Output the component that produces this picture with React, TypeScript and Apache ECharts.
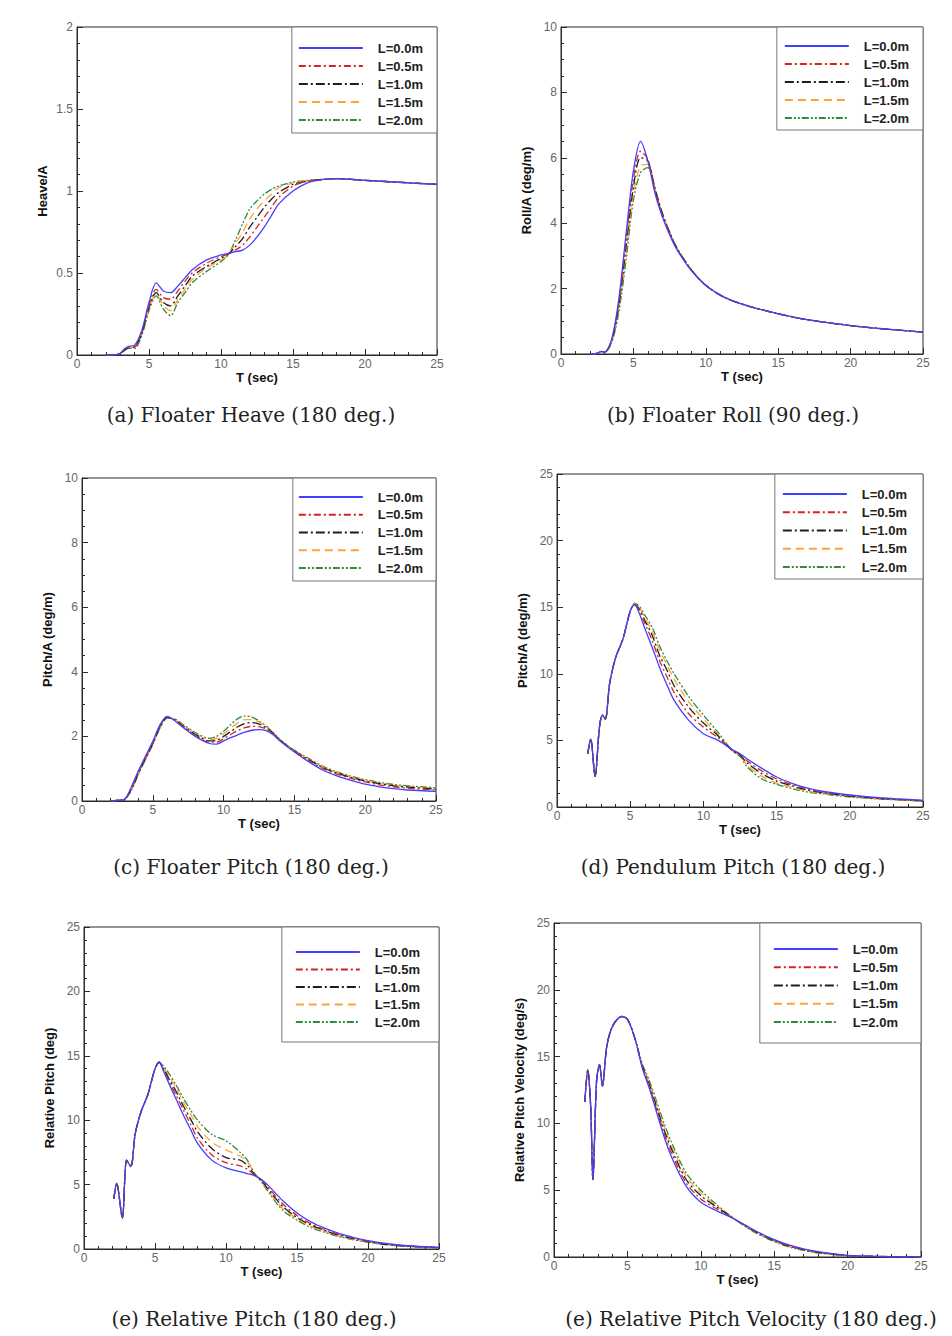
import { useEffect, useRef } from "react";
import * as echarts from "echarts";

// ---------- legend / style ----------
const NAMES = ["L=0.0m", "L=0.5m", "L=1.0m", "L=1.5m", "L=2.0m"];
const COLORS = ["#4040ff", "#d42424", "#1e1e1e", "#ffa23a", "#2f8c3a"];
const DASHES: any[] = ["solid", [7, 3, 2, 3], [9, 3, 2, 3], [8, 5], [7, 2, 2, 2, 2, 2]];

// ---------- (a) Floater Heave ----------
const T_A = [2, 2.5, 3, 3.5, 4, 4.5, 5, 5.5, 6, 6.5, 7, 7.5, 8, 9, 10, 10.5, 11, 11.5, 12, 12.5, 13, 13.5, 14, 15, 16, 17, 18, 20, 22, 25];
const HEAVE_L00 = [0, 0, 0.01, 0.05, 0.06, 0.15, 0.32, 0.44, 0.39, 0.38, 0.42, 0.47, 0.52, 0.58, 0.61, 0.62, 0.63, 0.64, 0.67, 0.72, 0.78, 0.85, 0.92, 1.0, 1.05, 1.07, 1.075, 1.065, 1.055, 1.04];
const HEAVE_L05 = [0, 0, 0.01, 0.05, 0.05, 0.14, 0.3, 0.4, 0.35, 0.34, 0.39, 0.45, 0.5, 0.56, 0.6, 0.615, 0.64, 0.67, 0.72, 0.78, 0.84, 0.9, 0.96, 1.03, 1.06, 1.07, 1.075, 1.065, 1.055, 1.04];
const HEAVE_L10 = [0, 0, 0.01, 0.04, 0.05, 0.13, 0.29, 0.38, 0.32, 0.3, 0.36, 0.42, 0.48, 0.54, 0.59, 0.615, 0.66, 0.71, 0.78, 0.84, 0.9, 0.95, 0.99, 1.04, 1.06, 1.07, 1.075, 1.065, 1.055, 1.04];
const HEAVE_L15 = [0, 0, 0.01, 0.04, 0.05, 0.13, 0.28, 0.37, 0.3, 0.27, 0.34, 0.4, 0.46, 0.53, 0.58, 0.61, 0.68, 0.75, 0.83, 0.89, 0.94, 0.98, 1.02, 1.05, 1.065, 1.07, 1.075, 1.065, 1.055, 1.04];
const HEAVE_L20 = [0, 0, 0.01, 0.04, 0.04, 0.12, 0.27, 0.36, 0.28, 0.24, 0.32, 0.38, 0.44, 0.51, 0.57, 0.61, 0.7, 0.8, 0.89, 0.94, 0.98, 1.01, 1.03, 1.055, 1.065, 1.07, 1.075, 1.065, 1.055, 1.04];

// ---------- (b) Floater Roll ----------
const T_B = [2, 2.5, 2.8, 3, 3.5, 4, 4.5, 5, 5.5, 6, 6.5, 7, 7.5, 8, 9, 10, 11, 12, 13, 14, 15, 17, 20, 22, 25];
const ROLL_L00 = [0, 0.02, 0.08, 0.05, 0.45, 1.7, 3.7, 5.6, 6.5, 5.9, 4.9, 4.2, 3.65, 3.2, 2.55, 2.1, 1.8, 1.6, 1.46, 1.34, 1.23, 1.05, 0.87, 0.78, 0.67];
const ROLL_L05 = [0, 0.02, 0.08, 0.05, 0.42, 1.6, 3.5, 5.35, 6.2, 5.95, 5.0, 4.25, 3.7, 3.22, 2.56, 2.1, 1.8, 1.6, 1.46, 1.34, 1.23, 1.05, 0.87, 0.78, 0.67];
const ROLL_L10 = [0, 0.02, 0.08, 0.05, 0.4, 1.5, 3.3, 5.1, 6.0, 5.9, 5.05, 4.3, 3.72, 3.24, 2.57, 2.1, 1.8, 1.6, 1.46, 1.34, 1.23, 1.05, 0.87, 0.78, 0.67];
const ROLL_L15 = [0, 0.02, 0.08, 0.05, 0.38, 1.4, 3.1, 4.9, 5.75, 5.8, 5.05, 4.3, 3.72, 3.25, 2.58, 2.1, 1.8, 1.6, 1.46, 1.34, 1.23, 1.05, 0.87, 0.78, 0.67];
const ROLL_L20 = [0, 0.02, 0.08, 0.05, 0.35, 1.3, 2.9, 4.7, 5.55, 5.7, 5.0, 4.3, 3.72, 3.25, 2.58, 2.1, 1.8, 1.6, 1.46, 1.34, 1.23, 1.05, 0.87, 0.78, 0.67];

// ---------- (c) Floater Pitch ----------
const T_C = [2, 2.5, 3, 3.5, 4, 4.5, 5, 5.5, 6, 6.5, 7, 8, 9, 9.5, 10, 10.5, 11, 11.5, 12, 12.5, 13, 13.5, 14, 15, 16, 17, 18, 19, 20, 21, 22, 23, 25];
const PF_L00 = [0, 0.02, 0.05, 0.45, 0.95, 1.4, 1.85, 2.35, 2.62, 2.5, 2.32, 2.0, 1.78, 1.76, 1.86, 1.96, 2.05, 2.13, 2.19, 2.21, 2.18, 2.05, 1.85, 1.52, 1.22, 0.96, 0.78, 0.64, 0.52, 0.44, 0.38, 0.34, 0.3];
const PF_L05 = [0, 0.02, 0.05, 0.4, 0.9, 1.35, 1.8, 2.3, 2.6, 2.52, 2.35, 2.03, 1.82, 1.82, 1.93, 2.06, 2.18, 2.27, 2.31, 2.3, 2.23, 2.08, 1.87, 1.54, 1.26, 1.01, 0.83, 0.7, 0.59, 0.5, 0.44, 0.4, 0.34];
const PF_L10 = [0, 0.02, 0.05, 0.38, 0.88, 1.33, 1.78, 2.28, 2.58, 2.53, 2.37, 2.06, 1.86, 1.88, 2.0, 2.15, 2.3, 2.4, 2.43, 2.38, 2.27, 2.1, 1.88, 1.55, 1.28, 1.04, 0.86, 0.73, 0.62, 0.54, 0.47, 0.43, 0.37];
const PF_L15 = [0, 0.02, 0.05, 0.36, 0.86, 1.31, 1.76, 2.26, 2.57, 2.54, 2.39, 2.09, 1.9, 1.94, 2.08, 2.25, 2.42, 2.52, 2.52, 2.44, 2.3, 2.11, 1.89, 1.56, 1.3, 1.06, 0.88, 0.75, 0.64, 0.56, 0.49, 0.45, 0.39];
const PF_L20 = [0, 0.02, 0.05, 0.34, 0.84, 1.3, 1.75, 2.25, 2.56, 2.55, 2.41, 2.12, 1.94, 2.0, 2.16, 2.36, 2.55, 2.63, 2.6, 2.48, 2.32, 2.12, 1.9, 1.57, 1.32, 1.08, 0.9, 0.77, 0.66, 0.58, 0.51, 0.47, 0.41];

// ---------- (d) Pendulum Pitch ----------
const T_D = [2.1, 2.3, 2.6, 2.9, 3.1, 3.3, 3.6, 4, 4.5, 5, 5.3, 5.6, 6, 6.5, 7, 7.5, 8, 9, 10, 11, 12, 12.5, 13, 14, 15, 16, 17, 18, 20, 22, 25];
const PP_L00 = [4.0, 5.1, 2.3, 6.0, 6.9, 6.6, 9.3, 11.2, 12.6, 14.7, 15.2, 14.6, 13.4, 12.0, 10.5, 9.2, 8.0, 6.5, 5.5, 5.0, 4.3, 4.0, 3.6, 2.9, 2.25, 1.8, 1.45, 1.2, 0.9, 0.7, 0.5];
const PP_L05 = [4.0, 5.1, 2.3, 6.0, 6.9, 6.6, 9.3, 11.2, 12.6, 14.7, 15.2, 14.8, 13.8, 12.5, 11.0, 9.8, 8.6, 7.0, 6.0, 5.2, 4.25, 3.95, 3.45, 2.7, 2.1, 1.7, 1.38, 1.15, 0.86, 0.67, 0.48];
const PP_L10 = [4.0, 5.1, 2.3, 6.0, 6.9, 6.6, 9.3, 11.2, 12.6, 14.7, 15.2, 14.9, 14.0, 12.9, 11.4, 10.3, 9.1, 7.5, 6.3, 5.35, 4.2, 3.9, 3.3, 2.5, 1.95, 1.6, 1.3, 1.1, 0.82, 0.64, 0.47];
const PP_L15 = [4.0, 5.1, 2.3, 6.0, 6.9, 6.6, 9.3, 11.2, 12.6, 14.7, 15.25, 15.0, 14.2, 13.2, 11.8, 10.7, 9.6, 7.9, 6.6, 5.45, 4.2, 3.85, 3.15, 2.3, 1.8, 1.5, 1.22, 1.05, 0.78, 0.62, 0.46];
const PP_L20 = [4.0, 5.1, 2.3, 6.0, 6.9, 6.6, 9.3, 11.2, 12.6, 14.7, 15.3, 15.1, 14.4, 13.5, 12.1, 11.0, 10.0, 8.3, 6.9, 5.6, 4.2, 3.8, 3.0, 2.1, 1.7, 1.4, 1.15, 1.0, 0.75, 0.6, 0.45];

// ---------- (e) Relative Pitch ----------
const T_E = [2.1, 2.3, 2.7, 3.0, 3.3, 3.6, 4, 4.5, 5, 5.3, 5.6, 6, 6.5, 7, 7.5, 8, 9, 10, 11, 11.5, 12, 12.5, 13, 14, 15, 16, 17, 18, 20, 22, 25];
const RP_L00 = [3.9, 5.1, 2.4, 6.9, 6.4, 8.9, 10.6, 12.0, 14.0, 14.5, 13.8, 12.8, 11.6, 10.4, 9.3, 8.2, 6.9, 6.3, 6.0, 5.85, 5.7, 5.4, 4.9, 3.75, 2.8, 2.1, 1.6, 1.2, 0.65, 0.33, 0.12];
const RP_L05 = [3.9, 5.1, 2.4, 6.9, 6.4, 8.9, 10.6, 12.0, 14.0, 14.5, 13.9, 13.0, 11.9, 10.8, 9.7, 8.6, 7.3, 6.7, 6.45, 6.2, 5.75, 5.35, 4.75, 3.5, 2.6, 1.95, 1.5, 1.12, 0.6, 0.3, 0.1];
const RP_L10 = [3.9, 5.1, 2.4, 6.9, 6.4, 8.9, 10.6, 12.0, 14.0, 14.5, 14.0, 13.2, 12.2, 11.1, 10.1, 9.1, 7.8, 7.1, 6.9, 6.5, 5.8, 5.3, 4.6, 3.3, 2.45, 1.85, 1.42, 1.06, 0.57, 0.28, 0.1];
const RP_L15 = [3.9, 5.1, 2.4, 6.9, 6.4, 8.9, 10.6, 12.0, 14.0, 14.5, 14.1, 13.4, 12.5, 11.4, 10.5, 9.5, 8.3, 7.7, 7.2, 6.8, 5.85, 5.25, 4.5, 3.15, 2.35, 1.75, 1.35, 1.0, 0.55, 0.26, 0.1];
const RP_L20 = [3.9, 5.1, 2.4, 6.9, 6.4, 8.9, 10.6, 12.0, 14.0, 14.5, 14.2, 13.6, 12.7, 11.7, 10.8, 10.0, 8.9, 8.4, 7.5, 6.9, 5.9, 5.2, 4.4, 3.0, 2.25, 1.65, 1.28, 0.95, 0.52, 0.25, 0.1];

// ---------- (f) Relative Pitch Velocity ----------
const T_F = [2.1, 2.3, 2.5, 2.65, 2.9, 3.1, 3.3, 3.6, 4, 4.6, 5, 5.5, 6, 6.5, 7, 7.5, 8, 9, 10, 11, 12, 13, 14, 15, 16, 17, 18, 20, 22, 25];
const RV_L00 = [11.6, 14.0, 11.2, 5.8, 13.2, 14.4, 12.8, 15.8, 17.3, 18.0, 17.8, 16.4, 14.2, 12.6, 10.8, 9.0, 7.5, 5.3, 4.1, 3.5, 3.0, 2.4, 1.8, 1.3, 0.9, 0.6, 0.4, 0.12, 0.04, 0.02];
const RV_L05 = [11.6, 14.0, 11.2, 5.8, 13.2, 14.4, 12.8, 15.8, 17.3, 18.0, 17.8, 16.4, 14.3, 12.75, 11.0, 9.25, 7.8, 5.55, 4.35, 3.65, 3.02, 2.38, 1.76, 1.26, 0.86, 0.57, 0.37, 0.11, 0.04, 0.02];
const RV_L10 = [11.6, 14.0, 11.2, 5.8, 13.2, 14.4, 12.8, 15.8, 17.3, 18.0, 17.8, 16.4, 14.35, 12.9, 11.2, 9.5, 8.1, 5.8, 4.6, 3.8, 3.05, 2.35, 1.72, 1.22, 0.82, 0.54, 0.35, 0.11, 0.04, 0.02];
const RV_L15 = [11.6, 14.0, 11.2, 5.8, 13.2, 14.4, 12.8, 15.8, 17.3, 18.0, 17.8, 16.4, 14.4, 13.05, 11.4, 9.75, 8.35, 6.05, 4.8, 3.9, 3.08, 2.33, 1.68, 1.18, 0.78, 0.52, 0.32, 0.1, 0.04, 0.02];
const RV_L20 = [11.6, 14.0, 11.2, 5.8, 13.2, 14.4, 12.8, 15.8, 17.3, 18.0, 17.8, 16.4, 14.5, 13.2, 11.6, 10.0, 8.6, 6.3, 5.0, 4.0, 3.1, 2.3, 1.65, 1.15, 0.75, 0.5, 0.3, 0.1, 0.04, 0.02];

const Y_TITLES = ["Heave/A", "Roll/A (deg/m)", "Pitch/A (deg/m)", "Pitch/A (deg/m)", "Relative Pitch (deg)", "Relative Pitch Velocity (deg/s)"];
const CAPTIONS = [
  "(a) Floater Heave (180 deg.)",
  "(b) Floater Roll (90 deg.)",
  "(c) Floater Pitch (180 deg.)",
  "(d) Pendulum Pitch (180 deg.)",
  "(e) Relative Pitch (180 deg.)",
  "(e) Relative Pitch Velocity (180 deg.)",
];

const PANELS = [
  { t: T_A, ys: [HEAVE_L00, HEAVE_L05, HEAVE_L10, HEAVE_L15, HEAVE_L20], yMax: 2, yInt: 0.5, yMinor: 5 },
  { t: T_B, ys: [ROLL_L00, ROLL_L05, ROLL_L10, ROLL_L15, ROLL_L20], yMax: 10, yInt: 2, yMinor: 4 },
  { t: T_C, ys: [PF_L00, PF_L05, PF_L10, PF_L15, PF_L20], yMax: 10, yInt: 2, yMinor: 4 },
  { t: T_D, ys: [PP_L00, PP_L05, PP_L10, PP_L15, PP_L20], yMax: 25, yInt: 5, yMinor: 5 },
  { t: T_E, ys: [RP_L00, RP_L05, RP_L10, RP_L15, RP_L20], yMax: 25, yInt: 5, yMinor: 5 },
  { t: T_F, ys: [RV_L00, RV_L05, RV_L10, RV_L15, RV_L20], yMax: 25, yInt: 5, yMinor: 5 },
];

// layout (pixels)
const GRIDS = [
  { left: 77, top: 27, width: 360, height: 328 },
  { left: 561, top: 27, width: 362, height: 327 },
  { left: 82, top: 478, width: 354, height: 323 },
  { left: 557, top: 474, width: 366, height: 333 },
  { left: 84, top: 927, width: 355, height: 322 },
  { left: 554, top: 923, width: 367, height: 334 },
];
// padding: [top, right, bottom, left]
const LEGEND_PAD = [
  [14.5, 14, 6.5, 6],
  [12.5, 14, 5.5, 7],
  [12.5, 13, 6.5, 5],
  [13.5, 16, 5.5, 7],
  [18.5, 19, 13.5, 13],
  [19.5, 23, 14.5, 13],
];
const LEGEND_GAP = [5, 5, 4.75, 5.25, 4.5, 5.25];
const CAPTION_POS = [
  [251, 415], [733, 415], [251, 867], [733, 867], [254, 1319], [751, 1319],
];

const SANS = "'Liberation Sans', Arial, sans-serif";

export default function App() {
  const ref = useRef<HTMLDivElement>(null);
  useEffect(() => {
    if (!ref.current) return;
    const chart = echarts.init(ref.current, undefined, { renderer: "svg" });
    const grid: any[] = [];
    const xAxis: any[] = [];
    const yAxis: any[] = [];
    const legend: any[] = [];
    const series: any[] = [];
    PANELS.forEach((p, i) => {
      const g = GRIDS[i];
      grid.push({ ...g, show: true, borderColor: "#2a2a2a", borderWidth: 1, backgroundColor: "transparent" });
      xAxis.push({
        gridIndex: i, type: "value", min: 0, max: 25, interval: 5,
        name: "T (sec)", nameLocation: "middle", nameGap: 15,
        nameTextStyle: { fontFamily: SANS, fontWeight: "bold", fontSize: 13, color: "#111", verticalAlign: "top" },
        axisLine: { show: true, onZero: false, lineStyle: { color: "#2a2a2a", width: 1 } },
        axisTick: { show: true, inside: true, length: 6, lineStyle: { color: "#2a2a2a" } },
        minorTick: { show: true, splitNumber: 5, length: 3, lineStyle: { color: "#2a2a2a" } },
        axisLabel: { color: "#666", fontSize: 12, fontFamily: SANS, margin: 3 },
        splitLine: { show: false },
      });
      yAxis.push({
        gridIndex: i, type: "value", min: 0, max: p.yMax, interval: p.yInt,
        name: Y_TITLES[i], nameLocation: "middle", nameGap: 28, nameRotate: 90,
        nameTextStyle: { fontFamily: SANS, fontWeight: "bold", fontSize: 13, color: "#111" },
        axisLine: { show: true, onZero: false, lineStyle: { color: "#2a2a2a", width: 1 } },
        axisTick: { show: true, inside: true, length: 6, lineStyle: { color: "#2a2a2a" } },
        minorTick: { show: true, splitNumber: p.yMinor, length: 3, lineStyle: { color: "#2a2a2a" } },
        axisLabel: { color: "#666", fontSize: 12, fontFamily: SANS, margin: 4 },
        splitLine: { show: false },
      });
      legend.push({
        show: true, orient: "vertical",
        right: 952 - (g.left + g.width), top: g.top,
        padding: LEGEND_PAD[i], itemWidth: 64, itemHeight: 10, itemGap: LEGEND_GAP[i],
        backgroundColor: "#fff", borderColor: "#777", borderWidth: 1,
        selectedMode: false,
        itemStyle: { opacity: 0 },
        textStyle: { fontFamily: SANS, fontWeight: "bold", fontSize: 13, color: "#222", padding: [0, 0, 0, 10] },
        data: NAMES,
      });
      p.ys.forEach((vals, k) => {
        series.push({
          type: "line", name: NAMES[k], xAxisIndex: i, yAxisIndex: i,
          data: p.t.map((t, j) => [t, vals[j]]),
          showSymbol: false, symbol: "none", smooth: 0.3, silent: true,
          lineStyle: { color: COLORS[k], width: 1.3, type: DASHES[k] },
          itemStyle: { color: COLORS[k] },
          z: 10 - k,
        });
      });
    });
    const graphic = CAPTIONS.map((c, i) => ({
      type: "text", x: CAPTION_POS[i][0], y: CAPTION_POS[i][1],
      style: { text: c, fill: "#222", font: "20px 'DejaVu Serif', serif", textAlign: "center", textVerticalAlign: "middle" },
    }));
    chart.setOption({ animation: false, backgroundColor: "#fff", grid, xAxis, yAxis, legend, series, graphic });
    return () => chart.dispose();
  }, []);
  return <div ref={ref} style={{ position: "absolute", left: 0, top: 0, width: 952, height: 1336 }} />;
}
